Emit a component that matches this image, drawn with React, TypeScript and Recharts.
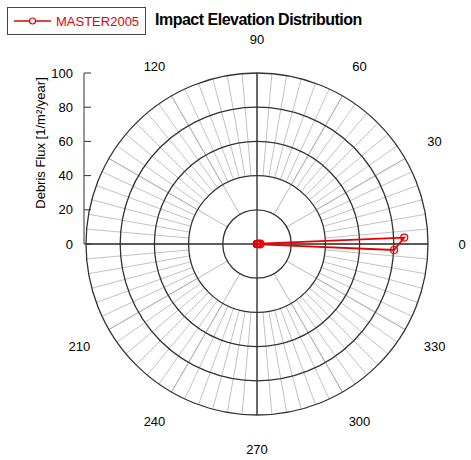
import React from 'react';
import {
    RadarChart, Radar, PolarGrid, PolarAngleAxis, PolarRadiusAxis, Legend,
    LineChart, Line, XAxis, YAxis,
} from 'recharts';

// elevation bins (deg) and debris flux [1/m^2/year]
const elevations = [
    2.5, 7.5, 12.5, 17.5, 22.5, 27.5, 32.5, 37.5, 42.5, 47.5, 52.5, 57.5, 62.5, 67.5, 72.5, 77.5, 82.5, 87.5,
    272.5, 277.5, 282.5, 287.5, 292.5, 297.5, 302.5, 307.5, 312.5, 317.5, 322.5, 327.5, 332.5, 337.5, 342.5, 347.5, 352.5, 357.5,
];
const master2005 = [
    86.2, 2.0, 0.8, 0.3, 0, 0, 0, 0, 0, 0, 0, 0, 0, 0, 0, 0, 0, 0,
    0, 0, 0, 0, 0, 0, 0, 0, 0, 0, 0, 0, 0, 0, 0.2, 0.6, 1.8, 80.2,
];

const fineAngles = [
    0, 5, 10, 15, 20, 25, 30, 35, 40, 45, 50, 55, 60, 65, 70, 75, 80, 85,
    90, 95, 100, 105, 110, 115, 120, 125, 130, 135, 140, 145, 150, 155, 160, 165, 170, 175,
    180, 185, 190, 195, 200, 205, 210, 215, 220, 225, 230, 235, 240, 245, 250, 255, 260, 265,
    270, 275, 280, 285, 290, 295, 300, 305, 310, 315, 320, 325, 330, 335, 340, 345, 350, 355,
];
const majorAngles = [0, 30, 60, 90, 120, 150, 180, 210, 240, 270, 300, 330];
// 150 and 180 are left unlabelled (the flux scale sits there)
const labelledAngles = [0, 30, 60, 90, 120, 210, 240, 270, 300, 330];
const axisAngles = [0, 90, 180, 270];
const fluxTicks = [0, 20, 40, 60, 80, 100];

const data = elevations.map((angle, i) => ({ angle, flux: master2005[i] }));

const W = 471;
const H = 460;
const CX = 257;
const CY = 244;
const R = 171;
const RED = '#e60000';
const FONT = '"Liberation Sans", Arial, sans-serif';

const layer: React.CSSProperties = { position: 'absolute', left: 0, top: 0 };

const AngleTick = (props: any) => {
    const { x, y, payload } = props;
    if (!labelledAngles.includes(payload.value)) return <g />;
    return (
        <text x={x} y={y} textAnchor="middle" dominantBaseline="central" fontSize={13} fill="#000" fontFamily={FONT}>
            {payload.value}
        </text>
    );
};

const FluxTick = (props: any) => {
    const { x, y, payload } = props;
    return (
        <g>
            <line x1={x} y1={y} x2={x + 7} y2={y} stroke="#333" strokeWidth={1} />
            <text x={x - 11} y={y} textAnchor="end" dominantBaseline="central" fontSize={13} fill="#000" fontFamily={FONT}>
                {payload.value}
            </text>
        </g>
    );
};

const renderLegend = (props: any) => {
    const { payload } = props;
    return (
        <div style={{
            border: '1px solid #444', boxSizing: 'border-box', width: 139, height: 28,
            display: 'flex', alignItems: 'center', background: '#fff',
        }}>
            {(payload || []).map((entry: any) => (
                <div key={entry.value} style={{ display: 'flex', alignItems: 'center' }}>
                    <svg width={38} height={12} style={{ marginLeft: 6 }}>
                        <line x1={0} y1={6} x2={37} y2={6} stroke={entry.color} strokeWidth={1.5} />
                        <circle cx={18.5} cy={6} r={3} fill="#fff" stroke={entry.color} strokeWidth={1.2} />
                    </svg>
                    <span style={{ color: entry.color, fontSize: 13, fontFamily: FONT, marginLeft: 4 }}>{entry.value}</span>
                </div>
            ))}
        </div>
    );
};

const polarProps = {
    width: W, height: H, cx: CX, cy: CY, outerRadius: R,
    startAngle: 0, endAngle: 360, data,
    margin: { top: 0, right: 0, bottom: 0, left: 0 },
};

const App: React.FC = () => {
    return (
        <div style={{ position: 'absolute', left: 0, top: 0, width: W, height: H, background: '#fff' }}>
            {/* fine 5 degree spokes, outer rings */}
            <div style={layer}>
                <RadarChart {...polarProps} innerRadius={R * 0.4}>
                    <PolarAngleAxis dataKey="angle" type="number" domain={[0, 360]} ticks={fineAngles} tick={false} tickLine={false} axisLine={false} />
                    <PolarGrid gridType="circle" polarRadius={[]} stroke="#a8a8a8" strokeWidth={0.7} />
                </RadarChart>
            </div>
            {/* 30 degree spokes and angle labels */}
            <div style={layer}>
                <RadarChart {...polarProps} innerRadius={R * 0.2}>
                    <PolarAngleAxis dataKey="angle" type="number" domain={[0, 360]} ticks={majorAngles} tick={AngleTick} tickSize={34} tickLine={false} axisLine={false} />
                    <PolarGrid gridType="circle" polarRadius={[]} stroke="#a8a8a8" strokeWidth={0.8} />
                </RadarChart>
            </div>
            {/* flux scale on the left */}
            <div style={layer}>
                <LineChart width={W} height={H} data={data} margin={{ top: 73, right: 0, bottom: 216, left: 0 }}>
                    <XAxis dataKey="angle" hide />
                    <YAxis
                        type="number" domain={[0, 100]} ticks={fluxTicks} width={84} allowDataOverflow
                        tickSize={0} tickMargin={0} tickLine={false} tick={FluxTick}
                        axisLine={{ stroke: '#333' }}
                        label={{
                            content: () => (
                                <text x={40} y={143} transform="rotate(-90 40 143)" textAnchor="middle" dominantBaseline="central" fontSize={13} fill="#000" fontFamily={FONT}>
                                    Debris Flux [1/m²/year]
                                </text>
                            ),
                        }}
                    />
                    <Line dataKey="flux" stroke="none" dot={false} activeDot={false} legendType="none" isAnimationActive={false} />
                </LineChart>
            </div>
            {/* rings, main axes and data */}
            <div style={layer}>
                <RadarChart {...polarProps} innerRadius={0}>
                    <PolarAngleAxis dataKey="angle" type="number" domain={[0, 360]} ticks={axisAngles} tick={false} tickLine={false} axisLine={false} />
                    <PolarRadiusAxis type="number" domain={[0, 100]} tickCount={6} tick={false} axisLine={false} />
                    <PolarGrid gridType="circle" stroke="#333" strokeWidth={1.3} />
                    <Radar
                        name="MASTER2005" dataKey="flux" stroke={RED} strokeWidth={1.8} fill="none"
                        dot={{ r: 3.5, fill: 'none', stroke: RED, strokeWidth: 1.2 }}
                        isAnimationActive={false}
                    />
                    <Legend content={renderLegend} wrapperStyle={{ left: 7, top: 7, width: 139, height: 28 }} />
                </RadarChart>
            </div>
            <div style={{
                position: 'absolute', left: 155, top: 11, fontFamily: FONT, fontWeight: 'bold',
                fontSize: 16, letterSpacing: -0.5, color: '#000', whiteSpace: 'nowrap',
            }}>
                Impact Elevation Distribution
            </div>
        </div>
    );
};

export default App;
